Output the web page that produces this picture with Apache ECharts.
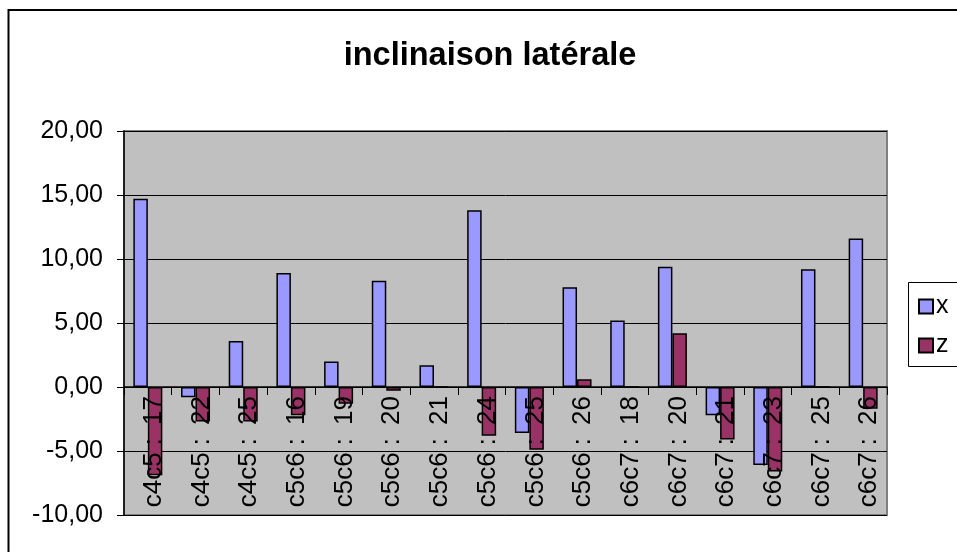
<!DOCTYPE html>
<html>
<head>
<meta charset="utf-8">
<title>inclinaison latérale</title>
<script src="https://cdn.jsdelivr.net/npm/echarts@6/dist/echarts.min.js"></script>
<style>
  html, body { margin: 0; padding: 0; background: #ffffff; }
  #chart { width: 957px; height: 552px; }
</style>
</head>
<body>
<div id="chart"></div>
<script>
// Vertebral levels (segment : measure)
const categories = [
  'c4c5 : 17', 'c4c5 : 22', 'c4c5 : 25',
  'c5c6 : 16', 'c5c6 : 19', 'c5c6 : 20', 'c5c6 : 21', 'c5c6 : 24', 'c5c6 : 25', 'c5c6 : 26',
  'c6c7 : 18', 'c6c7 : 20', 'c6c7 : 21', 'c6c7 : 23', 'c6c7 : 25', 'c6c7 : 26'
];

// Lateral inclination per axis
const valuesX = [14.7, -0.8, 3.6, 8.9, 2.0, 8.3, 1.7, 13.8, -3.6, 7.8, 5.2, 9.4, -2.2, -6.1, 9.2, 11.6];
const valuesZ = [-6.9, -2.7, -2.7, -2.2, -1.3, -0.3, 0, -3.8, -4.9, 0.6, 0, 4.2, -4.1, -6.6, 0, -1.7];

const seriesNames = ['x', 'z'];

// Value axis range and step
const yMin = -10;
const yMax = 20;
const yStep = 5;

const FONT = "'Liberation Sans', Arial, sans-serif";
const GRID = { left: 124, right: 70, top: 131, bottom: 37 };

const chart = echarts.init(document.getElementById('chart'), null, { renderer: 'canvas' });

const fmt = v => v.toFixed(2).replace('.', ',');

// Category label: a little extra room after the colon
const catLabel = v => {
  const parts = v.split(' : ');
  return parts.length === 2 ? parts[0] + ' :{g| }' + parts[1] : v;
};

chart.setOption({
  animation: false,
  backgroundColor: '#ffffff',
  title: {
    text: 'inclinaison latérale',
    left: 485,
    textAlign: 'center',
    top: 35,
    textStyle: { fontFamily: FONT, fontSize: 32.5, fontWeight: 'bold', color: '#000' }
  },
  legend: {
    orient: 'vertical',
    left: 918,
    top: 294,
    itemWidth: 14,
    itemHeight: 14,
    itemGap: 14,
    icon: 'rect',
    padding: 0,
    data: seriesNames,
    textStyle: { fontFamily: FONT, fontSize: 25, color: '#000', padding: [0, 0, 0, -2] }
  },
  grid: {
    left: GRID.left,
    right: GRID.right,
    top: GRID.top,
    bottom: GRID.bottom,
    containLabel: false,
    outerBoundsMode: 'none',
    show: true,
    backgroundColor: '#c0c0c0',
    borderColor: '#808080',
    borderWidth: 2
  },
  xAxis: {
    type: 'category',
    data: categories,
    position: 'bottom',
    offset: 0,
    z: 10,
    axisLine: { onZero: false, lineStyle: { color: '#000', width: 1.5 } },
    axisTick: { show: true, length: 8, lineStyle: { color: '#000', width: 1 } },
    axisLabel: {
      rotate: 90,
      interval: 0,
      margin: 9,
      fontFamily: FONT,
      fontSize: 26,
      color: '#000',
      padding: [12, 0, 0, 0],
      formatter: catLabel,
      rich: {
        g: { width: 13, fontFamily: FONT, fontSize: 26 }
      }
    }
  },
  yAxis: {
    type: 'value',
    min: yMin,
    max: yMax,
    interval: yStep,
    axisLine: { show: true, lineStyle: { color: '#000', width: 1.5 } },
    axisTick: { show: true, length: 7, lineStyle: { color: '#000', width: 1 } },
    axisLabel: { formatter: fmt, margin: 21, fontFamily: FONT, fontSize: 25, color: '#000' },
    splitLine: { show: true, lineStyle: { color: '#000', width: 1 } }
  },
  graphic: [
    // chart frame
    { type: 'rect', shape: { x: 8.5, y: 10, width: 1000, height: 600 },
      style: { fill: 'none', stroke: '#000', lineWidth: 2 }, z: 100 },
    // legend frame
    { type: 'rect', shape: { x: 908.5, y: 282.5, width: 80, height: 84 },
      style: { fill: 'none', stroke: '#000', lineWidth: 1 }, z: -1 }
  ],
  series: [
    {
      name: seriesNames[0],
      type: 'bar',
      data: valuesX,
      barWidth: 14.5,
      barGap: '0%',
      itemStyle: { color: '#9999ff', borderColor: '#000', borderWidth: 1.5 }
    },
    {
      name: seriesNames[1],
      type: 'bar',
      data: valuesZ,
      barWidth: 14.5,
      barGap: '0%',
      itemStyle: { color: '#993366', borderColor: '#000', borderWidth: 1.5 }
    }
  ]
});

// Lift the category axis (line, ticks, labels) up to the value-axis zero.
const zeroY = chart.convertToPixel({ yAxisIndex: 0 }, 0);
const plotBottom = chart.getHeight() - GRID.bottom;
chart.setOption({ xAxis: { offset: zeroY - plotBottom } });
</script>
</body>
</html>
